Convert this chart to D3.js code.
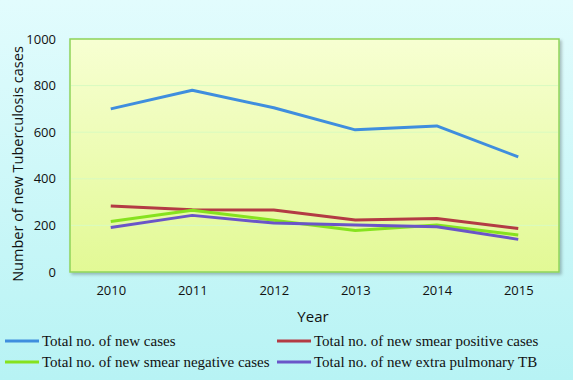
<!DOCTYPE html>
<html><head><meta charset="utf-8">
<script src="https://cdn.jsdelivr.net/npm/d3@7"></script>
<style>html,body{margin:0;padding:0;}svg{display:block;}</style>
</head><body>
<script>
const years = ["2010","2011","2012","2013","2014","2015"];
const newCases = [700, 780, 705, 610, 627, 494];
const smearPositive = [283, 267, 266, 223, 230, 187];
const smearNegative = [217, 265, 222, 178, 202, 159];
const extraPulmonary = [191, 243, 210, 202, 194, 140];
const seriesNames = ["Total no. of new cases","Total no. of new smear positive cases","Total no. of new smear negative cases","Total no. of new extra pulmonary TB"];
const seriesColors = ["#3f8ede","#b33b44","#86e21e","#6a55c8"];
const yTicks = [0,200,400,600,800,1000];

const W=573,H=380;
const svg=d3.select("body").append("svg").attr("width",W).attr("height",H);
const defs=svg.append("defs");
const bg=defs.append("linearGradient").attr("id","bg").attr("x1",0).attr("y1",0).attr("x2",0).attr("y2",1);
bg.append("stop").attr("offset","0%").attr("stop-color","#e2fcfd");
bg.append("stop").attr("offset","100%").attr("stop-color","#b7f3f4");
const pg=defs.append("linearGradient").attr("id","pg").attr("x1",0).attr("y1",0).attr("x2",0).attr("y2",1);
pg.append("stop").attr("offset","0%").attr("stop-color","#f7ffd2");
pg.append("stop").attr("offset","100%").attr("stop-color","#e2f995");
const sh=defs.append("filter").attr("id","sh").attr("x","-5%").attr("y","-5%").attr("width","115%").attr("height","115%");
sh.append("feDropShadow").attr("dx",2).attr("dy",2).attr("stdDeviation",1.5).attr("flood-color","#000").attr("flood-opacity",0.25);

svg.append("rect").attr("width",W).attr("height",H).attr("fill","url(#bg)");

const L=70,T=39,R=559,B=272;
const x=d3.scalePoint().domain(years).range([L,R]).padding(0.5);
const y=d3.scaleLinear().domain([0,1000]).range([B,T]);

svg.append("rect").attr("x",L).attr("y",T).attr("width",R-L).attr("height",B-T)
  .attr("fill","url(#pg)").attr("stroke","#8fd45a").attr("stroke-width",1.5).attr("filter","url(#sh)");

const g=svg.append("g");
g.selectAll("line.grid").data(yTicks.filter(d=>d>0&&d<1000)).join("line")
  .attr("x1",L+1).attr("x2",R-1).attr("y1",d=>y(d)).attr("y2",d=>y(d))
  .attr("stroke","#d8fbc0").attr("stroke-width",1);

const yAxis=d3.axisLeft(y).tickValues(yTicks).tickFormat(d3.format("d")).tickSize(0).tickPadding(14);
const ya=svg.append("g").attr("transform",`translate(${L},0)`).call(yAxis);
ya.select(".domain").remove();
ya.selectAll("text").attr("font-family","'Open Sans',sans-serif").attr("font-size",13).attr("fill","#111");

const xAxis=d3.axisBottom(x).tickSize(0).tickPadding(14);
const xa=svg.append("g").attr("transform",`translate(0,${B})`).call(xAxis);
xa.select(".domain").remove();
xa.selectAll("text").attr("font-family","'Open Sans',sans-serif").attr("font-size",13).attr("fill","#111");

svg.append("text").attr("x",313).attr("y",322).attr("text-anchor","middle")
  .attr("font-family","'Open Sans',sans-serif").attr("font-size",15).attr("fill","#111").text("Year");
svg.append("text").attr("transform","translate(23,164) rotate(-90)").attr("text-anchor","middle")
  .attr("font-family","'Open Sans',sans-serif").attr("font-size",14.5).attr("fill","#111").text("Number of new Tuberculosis cases");

const data=[newCases,smearPositive,smearNegative,extraPulmonary];
const line=d3.line().x((d,i)=>x(years[i])).y(d=>y(d));
[0,1,2,3].forEach(k=>{
  svg.append("path").datum(data[k]).attr("d",line).attr("fill","none")
    .attr("stroke",seriesColors[k]).attr("stroke-width",3).attr("stroke-linejoin","round");
});

const legPos=[[5,341],[277,341],[5,362],[277,362]];
seriesNames.forEach((n,k)=>{
  const [lx,ly]=legPos[k];
  svg.append("line").attr("x1",lx).attr("x2",lx+34).attr("y1",ly).attr("y2",ly)
    .attr("stroke",seriesColors[k]).attr("stroke-width",3);
  svg.append("text").attr("x",lx+37).attr("y",ly+5).attr("font-family","'Liberation Serif',serif")
    .attr("font-size",15).attr("fill","#111").text(n);
});
</script>
</body></html>
